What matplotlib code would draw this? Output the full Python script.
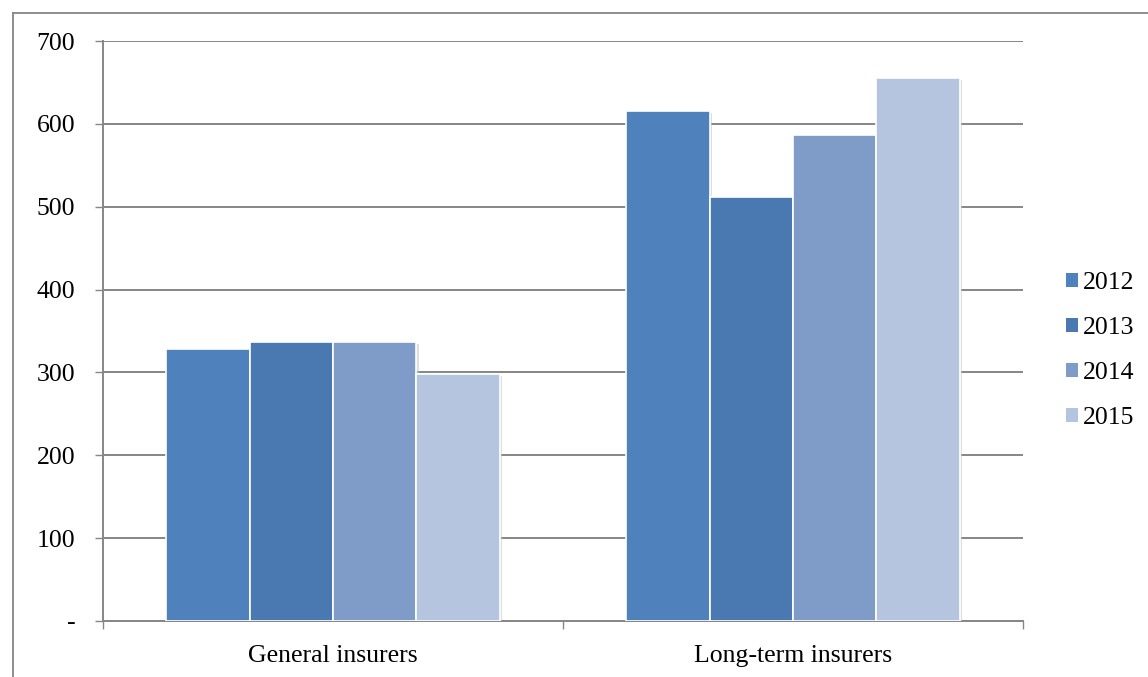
import matplotlib
matplotlib.use("Agg")
import matplotlib.pyplot as plt
import matplotlib.patheffects as pe
from matplotlib.lines import Line2D
import numpy as np

categories = ["General insurers", "Long-term insurers"]
years = ["2012", "2013", "2014", "2015"]
values = {
    "2012": [328, 616],
    "2013": [337, 512],
    "2014": [337, 586],
    "2015": [298, 655],
}
colors = ["#4F81BD", "#4A78B0", "#7F9CC8", "#B5C4DF"]
yticks = [0, 100, 200, 300, 400, 500, 600, 700]
yticklabels = ["-", "100", "200", "300", "400", "500", "600", "700"]

plt.rcParams['font.family'] = ['Liberation Serif', 'DejaVu Serif']
FS = 18.5

fig = plt.figure(figsize=(11.48, 6.77), dpi=100)
ax = fig.add_axes([103/1148, 1 - 621/677, (1023-103)/1148, (621-41)/677])

x = np.arange(len(categories))
bw = 0.1815
n = len(years)
for i, (yr, c) in enumerate(zip(years, colors)):
    pos = x + (i - (n - 1) / 2) * bw
    bars = ax.bar(pos, values[yr], width=bw, color=c, edgecolor="white",
                  linewidth=1.2, label=yr, zorder=3)
    for b in bars:
        b.set_path_effects([pe.SimplePatchShadow(offset=(1.5, -1.5), shadow_rgbFace="#c8c8c8", alpha=0.6),
                            pe.Normal()])

ax.set_xlim(-0.5, 1.5)
ax.set_ylim(0, 700)
ax.set_yticks(yticks)
ax.set_yticklabels(yticklabels)
ax.yaxis.grid(True, color="#868686", linewidth=1.4, zorder=0)
ax.set_axisbelow(True)
ax.set_xticks([-0.5, 0.5, 1.5])
ax.set_xticklabels([])
ax.set_xticks(x, minor=True)
ax.set_xticklabels(categories, minor=True)
ax.tick_params(axis="x", which="minor", length=0, pad=17, labelsize=FS)
ax.tick_params(axis="x", which="major", length=6, color="#868686", direction="out", width=1)
ax.tick_params(axis="y", length=6, color="#868686", width=1, pad=14, labelsize=FS)
for s in ["top", "right"]:
    ax.spines[s].set_visible(False)
for s in ["left", "bottom"]:
    ax.spines[s].set_color("#868686")
    ax.spines[s].set_linewidth(1.4)

leg = ax.legend(loc="center left", bbox_to_anchor=(1.022, 0.466), frameon=False,
                fontsize=FS, handlelength=0.45, handleheight=0.45, handletextpad=0.2,
                labelspacing=0.9)
for h in leg.legend_handles:
    h.set_path_effects([])
    h.set_edgecolor("none")

# outer frame (only top and left edges are visible in the reference)
x0 = 12.5 / 1148
y0 = 1 - 12.5 / 677
fig.add_artist(Line2D([x0, x0], [0, y0], transform=fig.transFigure, color="#868686", linewidth=1.3))
fig.add_artist(Line2D([x0, 1], [y0, y0], transform=fig.transFigure, color="#868686", linewidth=1.3))

fig.savefig("out.png", dpi=100)
